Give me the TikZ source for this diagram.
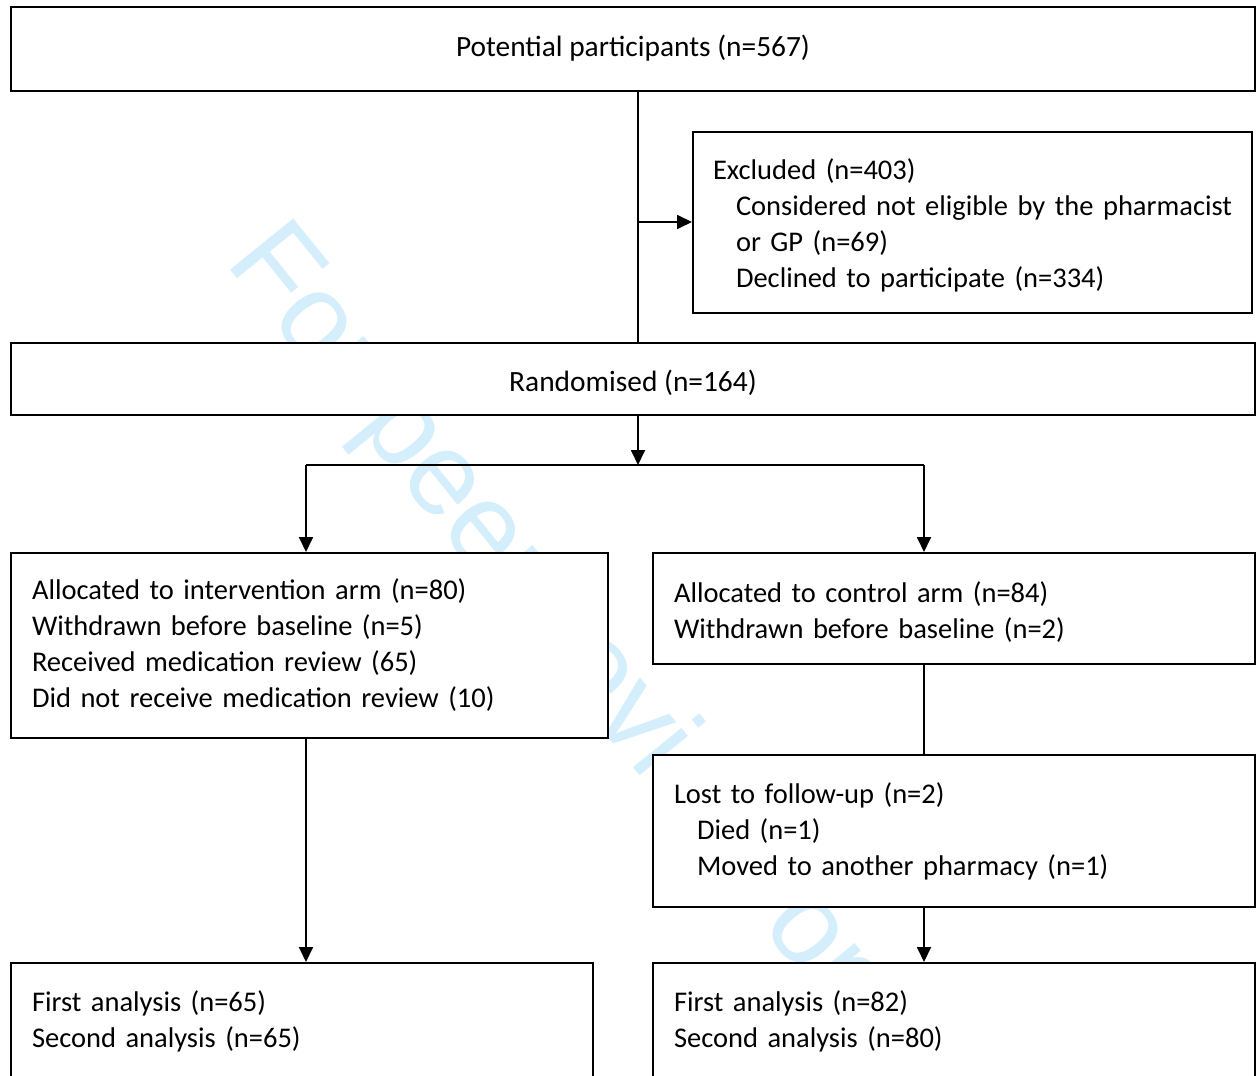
\documentclass[tikz,border=0pt]{standalone}
\usepackage{fontspec}
\setmainfont{Carlito}
\newfontfamily\wmfont{Liberation Sans}
\usetikzlibrary{arrows.meta,positioning,calc}
\definecolor{wmblue}{RGB}{212,238,252}
\newcommand\ind{\hspace*{21pt}}
\newcommand\indd{\hspace*{44pt}}
\tikzset{
  box/.style={draw=black, line width=2pt, fill=white, inner ysep=0pt},
  cbox/.style={box, align=center, font=\fontsize{29.4}{36}\selectfont},
  lbox/.style={box, align=left, inner xsep=0pt, font=\fontsize{28.5}{36}\selectfont},
  conn/.style={line width=1.8pt},
  arr/.style={conn, -{Triangle[length=15pt,width=14pt]}},
  wm/.style={text=wmblue, font=\wmfont\fontsize{118}{120}\selectfont, inner sep=0pt}
}
\begin{document}
\begin{tikzpicture}[x=1pt,y=-1pt]
\useasboundingbox (0,0) rectangle (1256,1076);
\clip (0,0) rectangle (1256,1076);
\fill[white] (0,0) rectangle (1256,1076);
% watermark
\node[wm, rotate=-51, anchor=base west] (wmark) at (224,262.5) {For peer review only};
% boxes
\node[cbox, minimum width=1244pt, minimum height=84pt, anchor=north west] (top) at (10,6) {\raisebox{1pt}[\height][\depth]{Potential participants (n=567)}};
\node[lbox, text width=559pt, minimum height=181pt, anchor=north west] (excl) at (692,131) {\hspace*{20pt}\rule{0pt}{27pt}Excluded (n=403)\\
\hspace*{43pt}Considered not eligible by the pharmacist\\
\hspace*{43pt}or GP (n=69)\\
\hspace*{43pt}Declined to participate (n=334)};
\node[cbox, minimum width=1244pt, minimum height=72pt, anchor=north west] (rand) at (10,342) {\raisebox{-4pt}[\height][\depth]{Randomised (n=164)}};
\node[lbox, text width=597pt, minimum height=185pt, anchor=north west] (interv) at (10,552) {\ind Allocated to intervention arm (n=80)\\
\ind Withdrawn before baseline (n=5)\\
\ind Received medication review (65)\\
\ind Did not receive medication review (10)};
\node[lbox, text width=602pt, minimum height=111pt, anchor=north west] (ctrl) at (652,552) {\ind\rule{0pt}{27pt}Allocated to control arm (n=84)\\
\ind Withdrawn before baseline (n=2)};
\node[lbox, text width=602pt, minimum height=152pt, anchor=north west] (lost) at (652,754) {\ind Lost to follow-up (n=2)\\
\indd Died (n=1)\\
\indd Moved to another pharmacy (n=1)};
\node[lbox, text width=582pt, minimum height=116pt, anchor=north west] (fa1) at (10,962) {\ind First analysis (n=65)\\
\ind Second analysis (n=65)};
\node[lbox, text width=602pt, minimum height=116pt, anchor=north west] (fa2) at (652,962) {\ind First analysis (n=82)\\
\ind Second analysis (n=80)};
% connectors
\coordinate (j1) at (638,222);
\coordinate (sp) at (638,465);
\coordinate (la) at (306,465);
\coordinate (ra) at (924,465);
\draw[conn] (top.south -| j1) -- (rand.north -| j1);
\draw[arr] (j1) -- (excl.west |- j1);
\draw[arr] (rand.south -| sp) -- (sp);
\draw[conn] (la) -- (ra);
\draw[arr] (la) -- (interv.north -| la);
\draw[arr] (ra) -- (ctrl.north -| ra);
\draw[conn] (ctrl.south -| ra) -- (lost.north -| ra);
\draw[arr] (lost.south -| ra) -- (fa2.north -| ra);
\draw[arr] (interv.south -| la) -- (fa1.north -| la);
\end{tikzpicture}
\end{document}
